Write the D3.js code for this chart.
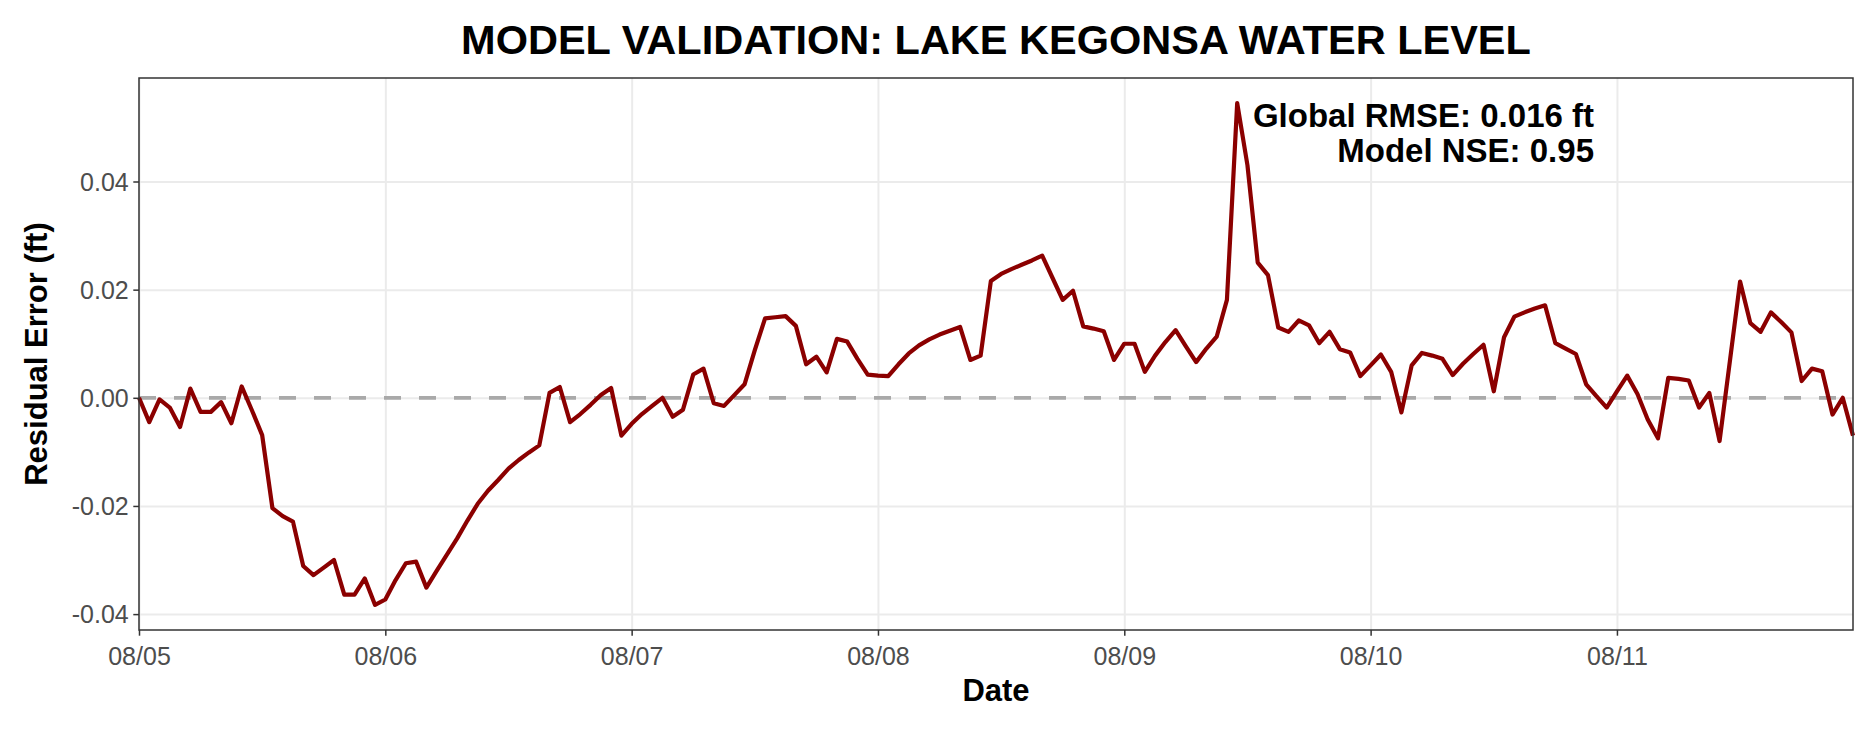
<!DOCTYPE html>
<html>
<head>
<meta charset="utf-8">
<script src="https://cdn.jsdelivr.net/npm/d3@7"></script>
<style>
  body { margin: 0; background: #fff; }
  text { font-family: "Liberation Sans", Arial, Helvetica, sans-serif; }
</style>
</head>
<body>
<div id="chart"></div>
<script>
/* global d3 */

// hourly residuals (ft), 08/05 00:00 -> 08/11 23:00
const START = '2024-08-05T00:00:00Z';
const residuals = [
  0.0000, -0.0045, -0.0003, -0.0018, -0.0054, 0.0017, -0.0026, -0.0026, -0.0008, -0.0047, 0.0021, -0.0023,
  -0.0069, -0.0204, -0.0219, -0.0229, -0.0311, -0.0328, -0.0314, -0.0300, -0.0364, -0.0364, -0.0334, -0.0383,
  -0.0373, -0.0337, -0.0306, -0.0303, -0.0351, -0.0320, -0.0290, -0.0260, -0.0227, -0.0196, -0.0172, -0.0152,
  -0.0131, -0.0115, -0.0101, -0.0088, 0.0009, 0.0020, -0.0045, -0.0030, -0.0013, 0.0005, 0.0018, -0.0070,
  -0.0048, -0.0030, -0.0015, 0.0000, -0.0035, -0.0022, 0.0043, 0.0054, -0.0010, -0.0015, 0.0005, 0.0025,
  0.0088, 0.0147, 0.0149, 0.0151, 0.0133, 0.0062, 0.0076, 0.0047, 0.0109, 0.0104, 0.0072, 0.0043,
  0.0041, 0.0040, 0.0062, 0.0082, 0.0097, 0.0108, 0.0117, 0.0124, 0.0131, 0.0070, 0.0078, 0.0216,
  0.0229, 0.0238, 0.0246, 0.0254, 0.0263, 0.0222, 0.0181, 0.0198, 0.0132, 0.0128, 0.0123, 0.0070,
  0.0100, 0.0100, 0.0048, 0.0078, 0.0103, 0.0125, 0.0095, 0.0066, 0.0091, 0.0113, 0.0181, 0.0545,
  0.0430, 0.0250, 0.0227, 0.0130, 0.0122, 0.0143, 0.0134, 0.0101, 0.0122, 0.0090, 0.0084, 0.0040,
  0.0060, 0.0080, 0.0048, -0.0027, 0.0060, 0.0083, 0.0078, 0.0072, 0.0042, 0.0063, 0.0081, 0.0098,
  0.0012, 0.0112, 0.0150, 0.0158, 0.0165, 0.0171, 0.0101, 0.0091, 0.0081, 0.0025, 0.0003, -0.0018,
  0.0012, 0.0041, 0.0007, -0.0040, -0.0075, 0.0037, 0.0035, 0.0032, -0.0018, 0.0009, -0.0080, 0.0067,
  0.0215, 0.0138, 0.0122, 0.0158, 0.0140, 0.0121, 0.0031, 0.0054, 0.0049, -0.0031, 0.0000, -0.0070
];
const yTicks = [-0.04, -0.02, 0, 0.02, 0.04];
const dayTicks = ['2024-08-05', '2024-08-06', '2024-08-07', '2024-08-08', '2024-08-09', '2024-08-10', '2024-08-11'];
const titleText = 'MODEL VALIDATION: LAKE KEGONSA WATER LEVEL';
const statLines = ['Global RMSE: 0.016 ft', 'Model NSE: 0.95'];

// dimensions
const WIDTH = 1875;
const HEIGHT = 729;
const MARGIN_TOP = 78;
const MARGIN_BOTTOM = 99;
const MARGIN_LEFT = 139;
const MARGIN_RIGHT = 22;
const TICK = 5.7;
const innerW = WIDTH - MARGIN_LEFT - MARGIN_RIGHT;
const innerH = HEIGHT - MARGIN_TOP - MARGIN_BOTTOM;

const parseDay = d3.utcParse('%Y-%m-%d');
const t0 = new Date(START);
const data = residuals.map((v, i) => ({ time: d3.utcHour.offset(t0, i), value: v }));

// scales (ggplot-style 5% expansion on y, none on x)
const [ymin, ymax] = d3.extent(data, d => d.value);
const pad = (ymax - ymin) * 0.05;
const scaleX = d3.scaleUtc()
  .domain(d3.extent(data, d => d.time))
  .range([0, innerW]);
const scaleY = d3.scaleLinear()
  .domain([ymin - pad, ymax + pad])
  .range([innerH, 0]);

const $svg = d3.select('#chart').append('svg')
  .attr('width', WIDTH)
  .attr('height', HEIGHT);

const $vis = $svg.append('g')
  .attr('transform', `translate(${MARGIN_LEFT}, ${MARGIN_TOP})`);

// grid
$vis.append('g')
  .attr('class', 'grid-y')
  .call(d3.axisLeft(scaleY).tickValues(yTicks).tickSize(-innerW).tickFormat(''))
  .call(g => g.select('.domain').remove())
  .call(g => g.selectAll('line').attr('stroke', '#ebebeb').attr('stroke-width', 2));

$vis.append('g')
  .attr('class', 'grid-x')
  .attr('transform', `translate(0, ${innerH})`)
  .call(d3.axisBottom(scaleX).tickValues(dayTicks.map(parseDay)).tickSize(-innerH).tickFormat(''))
  .call(g => g.select('.domain').remove())
  .call(g => g.selectAll('line').attr('stroke', '#ebebeb').attr('stroke-width', 2));

// zero reference
$vis.append('line')
  .attr('x1', 0)
  .attr('x2', innerW)
  .attr('y1', scaleY(0))
  .attr('y2', scaleY(0))
  .attr('stroke', '#a9a9a9')
  .attr('stroke-width', 3.8)
  .attr('stroke-dasharray', '17,18');

// residual line
const line = d3.line()
  .x(d => scaleX(d.time))
  .y(d => scaleY(d.value));

$vis.append('path')
  .datum(data)
  .attr('fill', 'none')
  .attr('stroke', '#8b0000')
  .attr('stroke-width', 4.2)
  .attr('stroke-linejoin', 'round')
  .attr('d', line);

// panel border
$vis.append('rect')
  .attr('width', innerW)
  .attr('height', innerH)
  .attr('fill', 'none')
  .attr('stroke', '#333333')
  .attr('stroke-width', 1.5);

// axes
const yAxis = $vis.append('g')
  .call(d3.axisLeft(scaleY).tickValues(yTicks).tickSize(TICK).tickPadding(4.6)
    .tickFormat(d3.format('.2f')));
const xAxis = $vis.append('g')
  .attr('transform', `translate(0, ${innerH})`)
  .call(d3.axisBottom(scaleX).tickValues(dayTicks.map(parseDay)).tickSize(TICK).tickPadding(4.6)
    .tickFormat(d3.utcFormat('%m/%d')));

[yAxis, xAxis].forEach($a => {
  $a.select('.domain').remove();
  $a.selectAll('line').attr('stroke', '#333333').attr('stroke-width', 1.5);
  $a.selectAll('text')
    .attr('fill', '#4d4d4d')
    .style('font-size', '25px');
});
yAxis.selectAll('text').text(d => d3.format('.2f')(d).replace('−', '-')).attr('dy', '0.35em');
xAxis.selectAll('text').attr('dy', null).attr('y', 35);

// axis titles
$svg.append('text')
  .attr('x', MARGIN_LEFT + innerW / 2)
  .attr('y', 701)
  .attr('text-anchor', 'middle')
  .style('font-size', '31px')
  .style('font-weight', 'bold')
  .text('Date');

$svg.append('text')
  .attr('transform', `translate(47, ${MARGIN_TOP + innerH / 2}) rotate(-90)`)
  .attr('text-anchor', 'middle')
  .style('font-size', '31px')
  .style('font-weight', 'bold')
  .text('Residual Error (ft)');

// title
$svg.append('text')
  .attr('x', MARGIN_LEFT + innerW / 2)
  .attr('y', 54)
  .attr('text-anchor', 'middle')
  .style('font-size', '41.5px')
  .style('font-weight', 'bold')
  .text(titleText);

// stats annotation, top aligned to the peak
const statTop = MARGIN_TOP + scaleY(ymax);
$svg.append('g')
  .selectAll('text')
  .data(statLines)
  .join('text')
  .attr('x', 1594)
  .attr('y', (d, i) => statTop + 24 + i * 35)
  .attr('text-anchor', 'end')
  .style('font-size', '33px')
  .style('font-weight', 'bold')
  .text(d => d);
</script>
</body>
</html>
